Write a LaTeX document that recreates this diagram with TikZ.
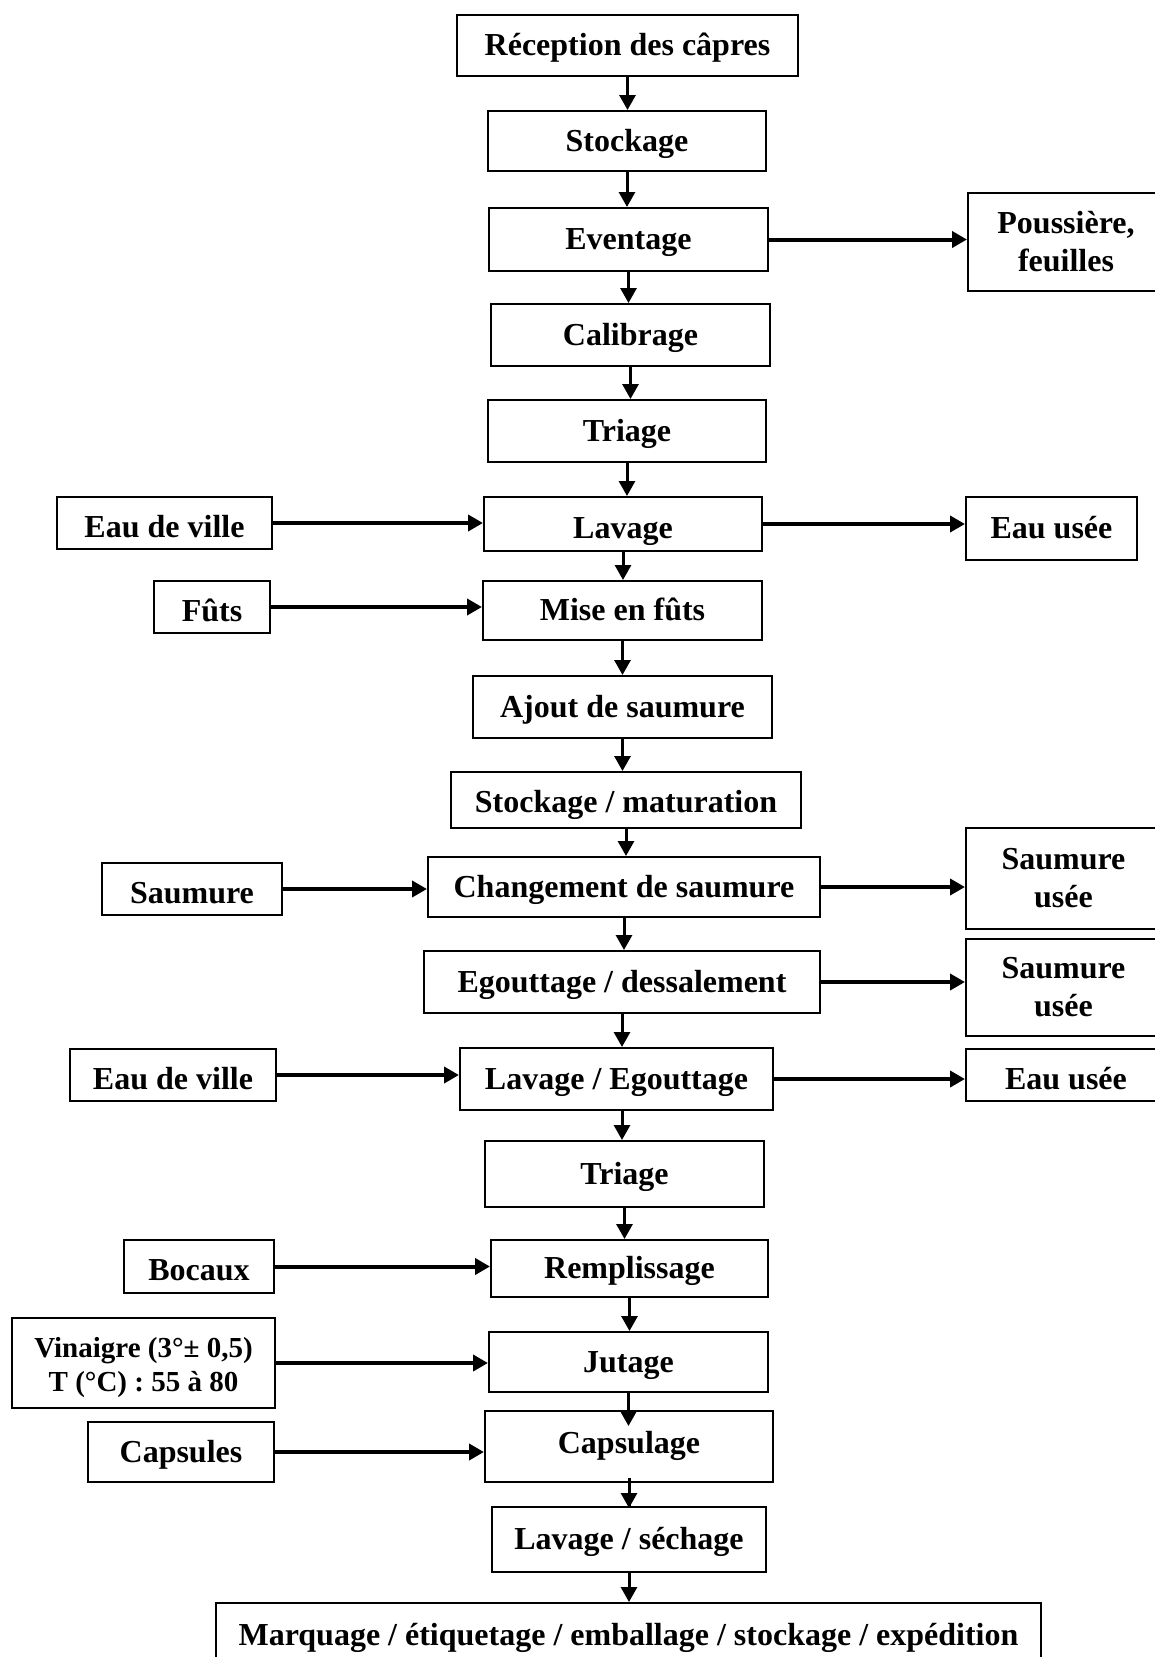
\documentclass[tikz,border=0pt]{standalone}
\usepackage{fontspec}
\setmainfont{Liberation Serif}
\usetikzlibrary{arrows.meta}
\begin{document}
\begin{tikzpicture}[x=1pt,y=-1pt,
  twoline/.style={draw, line width=2pt, inner sep=0pt, align=center,
    font=\bfseries\fontsize{32}{38}\selectfont},
  box/.style={twoline, text height=26pt, text depth=6pt},
  low/.style={text height=30pt, text depth=2pt},
  high/.style={text height=22pt, text depth=8pt},
  smallbox/.style={twoline, font=\bfseries\fontsize{29}{34}\selectfont},
  vflow/.style={line width=3pt, -{Triangle[length=15pt,width=16pt]}},
  hflow/.style={line width=4pt, -{Triangle[length=15pt,width=16pt]}}]
\useasboundingbox (0,0) rectangle (1155,1657);
\fill[white] (0,0) rectangle (1155,1657);

% main process column
\node[box, minimum width=341pt, minimum height=61pt] (rec) at (627.5,45.5) {Réception des câpres};
\node[box, minimum width=278pt, minimum height=60pt] (sto1) at (627,141) {Stockage};
\node[box, minimum width=279pt, minimum height=63pt] (eve) at (628.5,239.5) {Eventage};
\node[box, minimum width=279pt, minimum height=62pt] (cal) at (630.5,335) {Calibrage};
\node[box, minimum width=278pt, minimum height=62pt] (tri1) at (627,431) {Triage};
\node[box, low, minimum width=278pt, minimum height=54pt] (lav1) at (623,524) {Lavage};
\node[box, minimum width=279pt, minimum height=59pt] (mise) at (622.5,610.5) {Mise en fûts};
\node[box, minimum width=299pt, minimum height=62pt] (ajout) at (622.5,707) {Ajout de saumure};
\node[box, text height=28pt, text depth=4pt, minimum width=350pt, minimum height=56pt] (stomat) at (626,800) {Stockage / maturation};
\node[box, minimum width=392pt, minimum height=60pt] (chg) at (624,887) {Changement de saumure};
\node[box, minimum width=396pt, minimum height=62pt] (ego) at (622,982) {Egouttage / dessalement};
\node[box, minimum width=313pt, minimum height=62pt] (lavego) at (616.5,1079) {Lavage / Egouttage};
\node[box, minimum width=279pt, minimum height=66pt] (tri2) at (624.5,1174) {Triage};
\node[box, minimum width=277pt, minimum height=57pt] (rem) at (629.5,1268.5) {Remplissage};
\node[box, minimum width=279pt, minimum height=60pt] (jut) at (628.5,1362) {Jutage};
\node[box, high, minimum width=288pt, minimum height=71pt] (capg) at (629,1446.5) {Capsulage};
\node[box, minimum width=274pt, minimum height=65pt] (lavsec) at (629,1539.5) {Lavage / séchage};
\node[box, minimum width=825pt, minimum height=64pt] (mar) at (628.5,1635) {Marquage / étiquetage / emballage / stockage / expédition};

% inputs on the left
\node[box, low, minimum width=215pt, minimum height=52pt] (edv1) at (164.5,523) {Eau de ville};
\node[box, low, minimum width=116pt, minimum height=52pt] (futs) at (212,607) {Fûts};
\node[box, low, minimum width=180pt, minimum height=52pt] (saum) at (192,889) {Saumure};
\node[box, low, minimum width=206pt, minimum height=52pt] (edv2) at (173,1075) {Eau de ville};
\node[box, low, minimum width=150pt, minimum height=53pt] (boc) at (199,1266.5) {Bocaux};
\node[smallbox, minimum width=263pt, minimum height=90pt] (vin) at (143.5,1363) {};
\node[font=\bfseries\fontsize{29}{34}\selectfont, align=center, inner sep=0pt] (vintext) at ([yshift=-5pt]vin.center) {Vinaigre (3°± 0,5)\\T (°C) : 55 à 80};
\node[box, minimum width=186pt, minimum height=60pt] (caps) at (181,1452) {Capsules};

% outputs on the right
\node[twoline, minimum width=196pt, minimum height=98pt] (pou) at (1066,242) {Poussière,\\feuilles};
\node[box, minimum width=171pt, minimum height=63pt] (eu1) at (1051.5,528.5) {Eau usée};
\node[twoline, minimum width=195pt, minimum height=101pt] (su1) at (1063.5,878.5) {Saumure\\usée};
\node[twoline, minimum width=195pt, minimum height=97pt] (su2) at (1063.5,987.5) {Saumure\\usée};
\node[box, low, minimum width=200pt, minimum height=52pt] (eu2) at (1066,1075) {Eau usée};

% main flow
\foreach \a/\b in {rec/sto1, sto1/eve, eve/cal, cal/tri1, tri1/lav1, lav1/mise,
  mise/ajout, ajout/stomat, stomat/chg, chg/ego, ego/lavego, tri2/rem,
  rem/jut, lavsec/mar}
  \draw[vflow] (\a.south) -- (\a.south |- \b.north);
\draw[vflow] (lavego.south -| tri2.north) ++(-2.5,0) coordinate (lt) -- (lt |- tri2.north);
% the two short arrows that run into the capsuling box
\draw[vflow] (jut.south) -- ++(0,33) coordinate (jt);
\draw[vflow] (capg.south) ++(0,-5) coordinate (cs) -- (cs |- lavsec.north) -- ++(0,2);

% side inputs
\foreach \a/\b in {edv1/lav1, futs/mise, saum/chg, edv2/lavego, boc/rem, vin/jut, caps/capg}
  \draw[hflow] (\a.east) -- (\a.east -| \b.west);

% side outputs
\foreach \a/\b in {eve/pou, lav1/eu1, chg/su1, ego/su2, lavego/eu2}
  \draw[hflow] (\a.east) -- (\a.east -| \b.west);
\end{tikzpicture}
\end{document}
